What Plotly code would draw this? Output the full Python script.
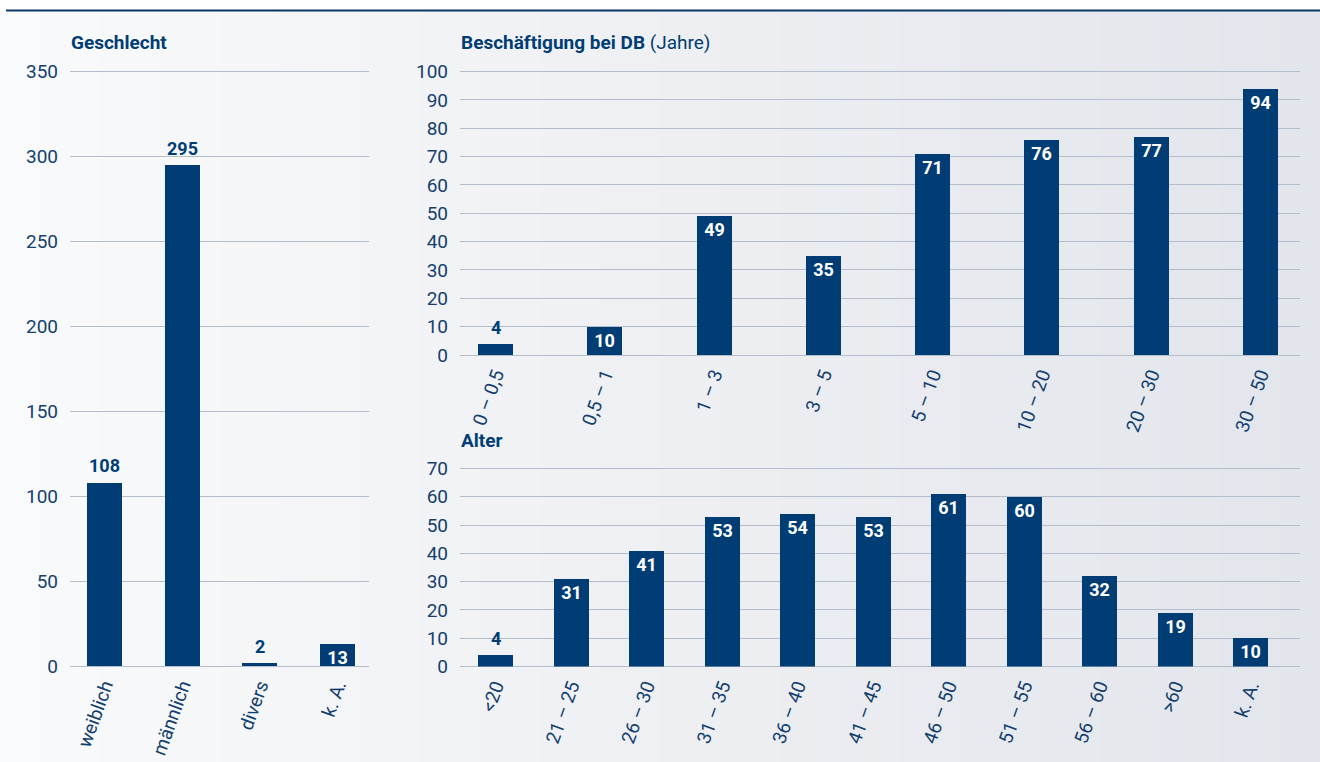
import plotly.graph_objects as go

W, H = 1320, 762

# ---------------- data ----------------
gender_cats = ["weiblich", "männlich", "divers", "k. A."]
gender_vals = [108, 295, 2, 13]

tenure_cats = ["0 – 0,5", "0,5 – 1", "1 – 3", "3 – 5", "5 – 10", "10 – 20", "20 – 30", "30 – 50"]
tenure_vals = [4, 10, 49, 35, 71, 76, 77, 94]

age_cats = ["<20", "21 – 25", "26 – 30", "31 – 35", "36 – 40", "41 – 45",
            "46 – 50", "51 – 55", "56 – 60", ">60", "k. A."]
age_vals = [4, 31, 41, 53, 54, 53, 61, 60, 32, 19, 10]

gender_ticks = [0, 50, 100, 150, 200, 250, 300, 350]
tenure_ticks = list(range(0, 101, 10))
age_ticks = list(range(0, 71, 10))

# ---------------- style ----------------
BAR = "#003d74"
TXT = "#14406f"
GRID = "#b4bdcb"
FONT = "Roboto"

def esc(s):
    return s.replace("<", "&lt;").replace(">", "&gt;")

def xdom(p0, p1):
    return [p0 / W, p1 / W]

def ydom(pb, pt):
    return [1 - pb / H, 1 - pt / H]

fig = go.Figure()

def add_bars(cats, vals, xa, ya, width, inside):
    fig.add_trace(go.Bar(
        x=list(range(len(cats))), y=vals, xaxis=xa, yaxis=ya,
        marker=dict(color=BAR, line=dict(width=0)),
        width=width,
        text=[str(v) if ins else "" for v, ins in zip(vals, inside)],
        textposition="inside",
        textangle=0,
        insidetextanchor="end",
        insidetextfont=dict(family=FONT, size=18, color="white", weight="bold"),
        constraintext="none",
        cliponaxis=False,
        hoverinfo="skip",
        showlegend=False,
    ))
    # labels above the short bars
    for i, (v, ins) in enumerate(zip(vals, inside)):
        if not ins:
            fig.add_annotation(x=i, y=v, xref=xa, yref=ya, text="<b>%d</b>" % v,
                               showarrow=False, yanchor="bottom", xanchor="center",
                               yshift=4, font=dict(family=FONT, size=18, color=BAR))

add_bars(gender_cats, gender_vals, "x", "y", 0.4506,
         [False, False, False, True])
add_bars(tenure_cats, tenure_vals, "x2", "y2", 0.320,
         [False] + [True] * 7)
add_bars(age_cats, age_vals, "x3", "y3", 0.4636,
         [False] + [True] * 10)

tickfont = dict(family=FONT, size=19, color=TXT)

def xaxis_cfg(cats, rng, dom, anchor):
    return dict(
        domain=dom, range=rng, anchor=anchor, automargin=False,
        tickmode="array", tickvals=list(range(len(cats))),
        ticktext=[esc(c) for c in cats],
        tickangle=-70, tickfont=tickfont,
        showgrid=False, zeroline=False, showline=False, ticks="",
        ticklabelstandoff=4, fixedrange=True,
    )

def yaxis_cfg(ticks, rng, dom, anchor):
    return dict(
        domain=dom, range=rng, anchor=anchor, automargin=False,
        tickmode="array", tickvals=ticks,
        tickfont=tickfont, showgrid=True, gridcolor=GRID, gridwidth=1.4,
        zeroline=True, zerolinecolor=GRID, zerolinewidth=1.4,
        showline=False, ticks="", ticklabelstandoff=11, fixedrange=True,
    )

fig.update_layout(
    xaxis=xaxis_cfg(gender_cats, [(70 - 104.5) / 77.67, (369 - 104.5) / 77.67], xdom(70, 369), "y"),
    yaxis=yaxis_cfg(gender_ticks, [0, 355], ydom(666, 666 - 355 * 1.7), "x"),
    xaxis2=xaxis_cfg(tenure_cats, [(460 - 495.5) / 109.29, (1300 - 495.5) / 109.29], xdom(460, 1300), "y2"),
    yaxis2=yaxis_cfg(tenure_ticks, [0, 102], ydom(355, 355 - 102 * 2.835), "x2"),
    xaxis3=xaxis_cfg(age_cats, [(460 - 495.5) / 75.5, (1300 - 495.5) / 75.5], xdom(460, 1300), "y3"),
    yaxis3=yaxis_cfg(age_ticks, [0, 72], ydom(666.5, 666.5 - 72 * 2.83), "x3"),
)

# titles
def title(x, y, txt):
    fig.add_annotation(x=x / W, y=1 - y / H, xref="paper", yref="paper",
                       xanchor="left", yanchor="middle", showarrow=False,
                       text=txt, font=dict(family=FONT, size=19, color=BAR))

title(69, 42, "<b>Geschlecht</b>")
title(459, 42, "<b>Beschäftigung bei DB</b> (Jahre)")
title(459, 440, "<b>Alter</b>")

# background gradient + top rule
shapes = []
n = 66
c0 = (249, 250, 251)
c1 = (226, 229, 235)
for i in range(n):
    t = i / (n - 1)
    col = "rgb(%d,%d,%d)" % tuple(round(a + (b - a) * t) for a, b in zip(c0, c1))
    shapes.append(dict(type="rect", xref="paper", yref="paper", layer="below",
                       x0=i / n, x1=(i + 1) / n + 0.002, y0=0, y1=1 - 10 / H,
                       line=dict(width=0), fillcolor=col))
shapes.append(dict(type="line", xref="paper", yref="paper", layer="above",
                   x0=6 / W, x1=1, y0=1 - 10.5 / H, y1=1 - 10.5 / H,
                   line=dict(color="#0a3766", width=2)))

fig.update_layout(
    shapes=shapes,
    width=W, height=H, autosize=False,
    margin=dict(l=0, r=0, t=0, b=0, pad=0, autoexpand=False),
    paper_bgcolor="white", plot_bgcolor="rgba(0,0,0,0)",
    bargap=0, showlegend=False,
    font=dict(family=FONT, color=TXT),
)

fig.write_html("out.html", config={"displayModeBar": False})
